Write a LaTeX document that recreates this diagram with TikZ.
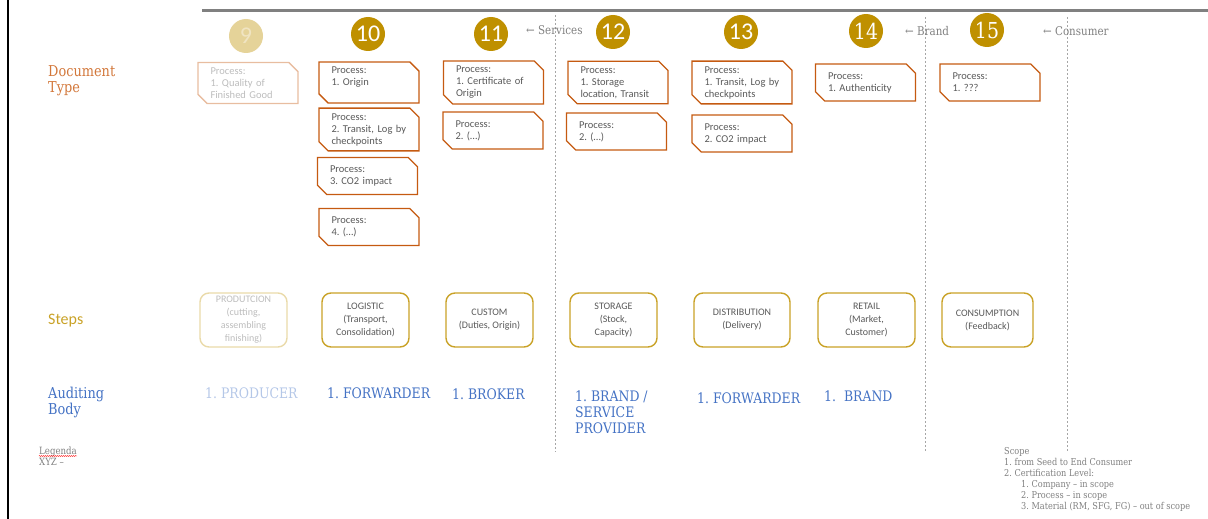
\documentclass[tikz,border=0pt]{standalone}
\usepackage{fontspec}
\setmainfont{Carlito}
\newfontfamily\slab[FakeStretch=0.86]{DejaVu Serif}
\usetikzlibrary{shapes.misc,decorations.pathmorphing}

\definecolor{procline}{HTML}{C55A11}
\definecolor{doclabel}{HTML}{D2773A}
\definecolor{gold}{HTML}{BF9000}
\definecolor{stepline}{HTML}{C9A227}
\definecolor{audit}{HTML}{4472C4}
\definecolor{bodytext}{HTML}{595959}
\definecolor{note}{HTML}{808080}

\begin{document}
\frenchspacing
\begin{tikzpicture}[x=1pt, y=-1pt,
    num/.style={circle, fill=gold, minimum size=34pt, inner sep=0pt, text=white, font=\fontsize{24}{24}\selectfont},
    proc/.style={chamfered rectangle, chamfered rectangle corners={north east, south west},
      chamfered rectangle xsep=6pt, chamfered rectangle angle=45, draw=procline, line width=1.3pt,
      minimum width=100pt, minimum height=37pt, text width=75pt, inner xsep=6.5pt, inner ysep=2pt,
      align=left, text=bodytext, font=\fontsize{10.5}{12}\selectfont},
    stepbox/.style={draw=stepline, line width=1.4pt, rounded corners=9pt, minimum height=54pt,
      inner sep=1pt, align=center, text=bodytext, font=\fontsize{10}{13}\selectfont},
    auditor/.style={anchor=north west, inner sep=0pt, align=left, text=audit, font=\slab\fontsize{14.5}{16}\selectfont},
    rowlabel/.style={anchor=north west, inner sep=0pt, align=left},
    scopeword/.style={anchor=west, inner sep=0pt, text=note, font=\slab\fontsize{12}{14}\selectfont},
    faded/.style={opacity=0.4}]

  \useasboundingbox (0,0) rectangle (1208,519);
  \draw[line width=2pt] (8,0) -- (8,519);
  \draw[line width=3pt, color=black!50] (202,11) -- (1208,11);
  \foreach \x/\a/\b in {555/15/452, 925/17/452, 1067/17/452}
    \draw[black!35, line width=0.8pt, dash pattern=on 2pt off 2pt] (\x,\a) -- (\x,\b);

  \node[num, faded] (n9) at (246,36) {9};
  \foreach \k/\x/\y in {10/368/34, 11/491/34, 12/613/32, 13/741/32}
    \node[num] (n\k) at (\x,\y) {\k};
  \foreach \k/\x/\y in {14/866/31, 15/987/30}
    \node[num, font=\slab\fontsize{22}{22}\selectfont] (n\k) at (\x,\y) {\k};

  \node[scopeword] (services) at (526,30) {← Services};
  \node[scopeword] (brand) at (905,31) {← Brand};
  \node[scopeword] (consumer) at (1043,31) {← Consumer};

  \node[rowlabel, text=doclabel, font=\slab\fontsize{15}{16}\selectfont] (doctype) at (48,65.5) {Document\\Type};
  \node[rowlabel, text=stepline, font=\fontsize{16}{18}\selectfont] (steps) at (48,314) {Steps};
  \node[rowlabel, text=audit, font=\slab\fontsize{15}{16}\selectfont] (auditing) at (48,387) {Auditing\\Body};

  \node[proc, faded] (p9) at (248,83) {Process:\\1. Quality of\\Finished Good};
  \node[proc] (p10a) at (369,82.5) {Process:\\1. Origin\\\mbox{}};
  \node[proc] (p10b) at (369,129.5) {Process:\\2. Transit, Log by\\checkpoints};
  \node[proc] (p10c) at (367.5,176) {Process:\\3. CO2 impact};
  \node[proc] (p10d) at (369,227) {Process:\\4. (…)};
  \node[proc] (p11a) at (493.5,82.5) {Process:\\1. Certificate of\\Origin};
  \node[proc] (p11b) at (493,130.5) {Process:\\2. (…)};
  \node[proc] (p12a) at (618,82.5) {Process:\\1. Storage\\location, Transit};
  \node[proc] (p12b) at (616.5,131.5) {Process:\\2. (…)};
  \node[proc] (p13a) at (742,82.5) {Process:\\1. Transit, Log by\\checkpoints};
  \node[proc] (p13b) at (742,133.5) {Process:\\2. CO2 impact};
  \node[proc] (p14) at (865.5,82.5) {Process:\\1. Authenticity};
  \node[proc] (p15) at (990,82.5) {Process:\\1. ???};

  \node[stepbox, faded, minimum width=87pt] (s9) at (243.5,320) {PRODUTCION\\(cutting,\\assembling\\finishing)};
  \node[stepbox, minimum width=87pt] (s10) at (365.5,320) {LOGISTIC\\(Transport,\\Consolidation)};
  \node[stepbox, minimum width=87pt] (s11) at (489.5,320) {CUSTOM\\(Duties, Origin)};
  \node[stepbox, minimum width=87pt] (s12) at (613.5,320) {STORAGE\\(Stock,\\Capacity)};
  \node[stepbox, minimum width=96pt] (s13) at (742,320) {DISTRIBUTION\\(Delivery)};
  \node[stepbox, minimum width=97pt] (s14) at (866.5,320) {RETAIL\\(Market,\\Customer)};
  \node[stepbox, minimum width=91pt] (s15) at (987.5,320) {CONSUMPTION\\(Feedback)};

  \node[auditor, faded] (a9) at (205,388) {1. PRODUCER};
  \node[auditor] (a10) at (327,388) {1. FORWARDER};
  \node[auditor] (a11) at (452,389) {1. BROKER};
  \node[auditor] (a12) at (575,391) {1. BRAND /\\SERVICE\\PROVIDER};
  \node[auditor] (a13) at (697,393) {1. FORWARDER};
  \node[auditor] (a14) at (824,391) {1.\ \ BRAND};

  \node[rowlabel, text=note, font=\slab\fontsize{10}{9.5}\selectfont] (legend) at (39,447) {Legenda\\XYZ –};
  \draw[red, line width=0.4pt, decorate, decoration={snake, amplitude=0.5pt, segment length=2pt}] (39,456) -- (77,456);
  \node[rowlabel, text=note, font=\slab\fontsize{9.5}{11}\selectfont] (scope) at (1004,447) {Scope\\1. from Seed to End Consumer\\2. Certification Level:\\\hspace*{17pt}1. Company – in scope\\\hspace*{17pt}2. Process – in scope\\\hspace*{17pt}3. Material (RM, SFG, FG) – out of scope};
\end{tikzpicture}
\end{document}
